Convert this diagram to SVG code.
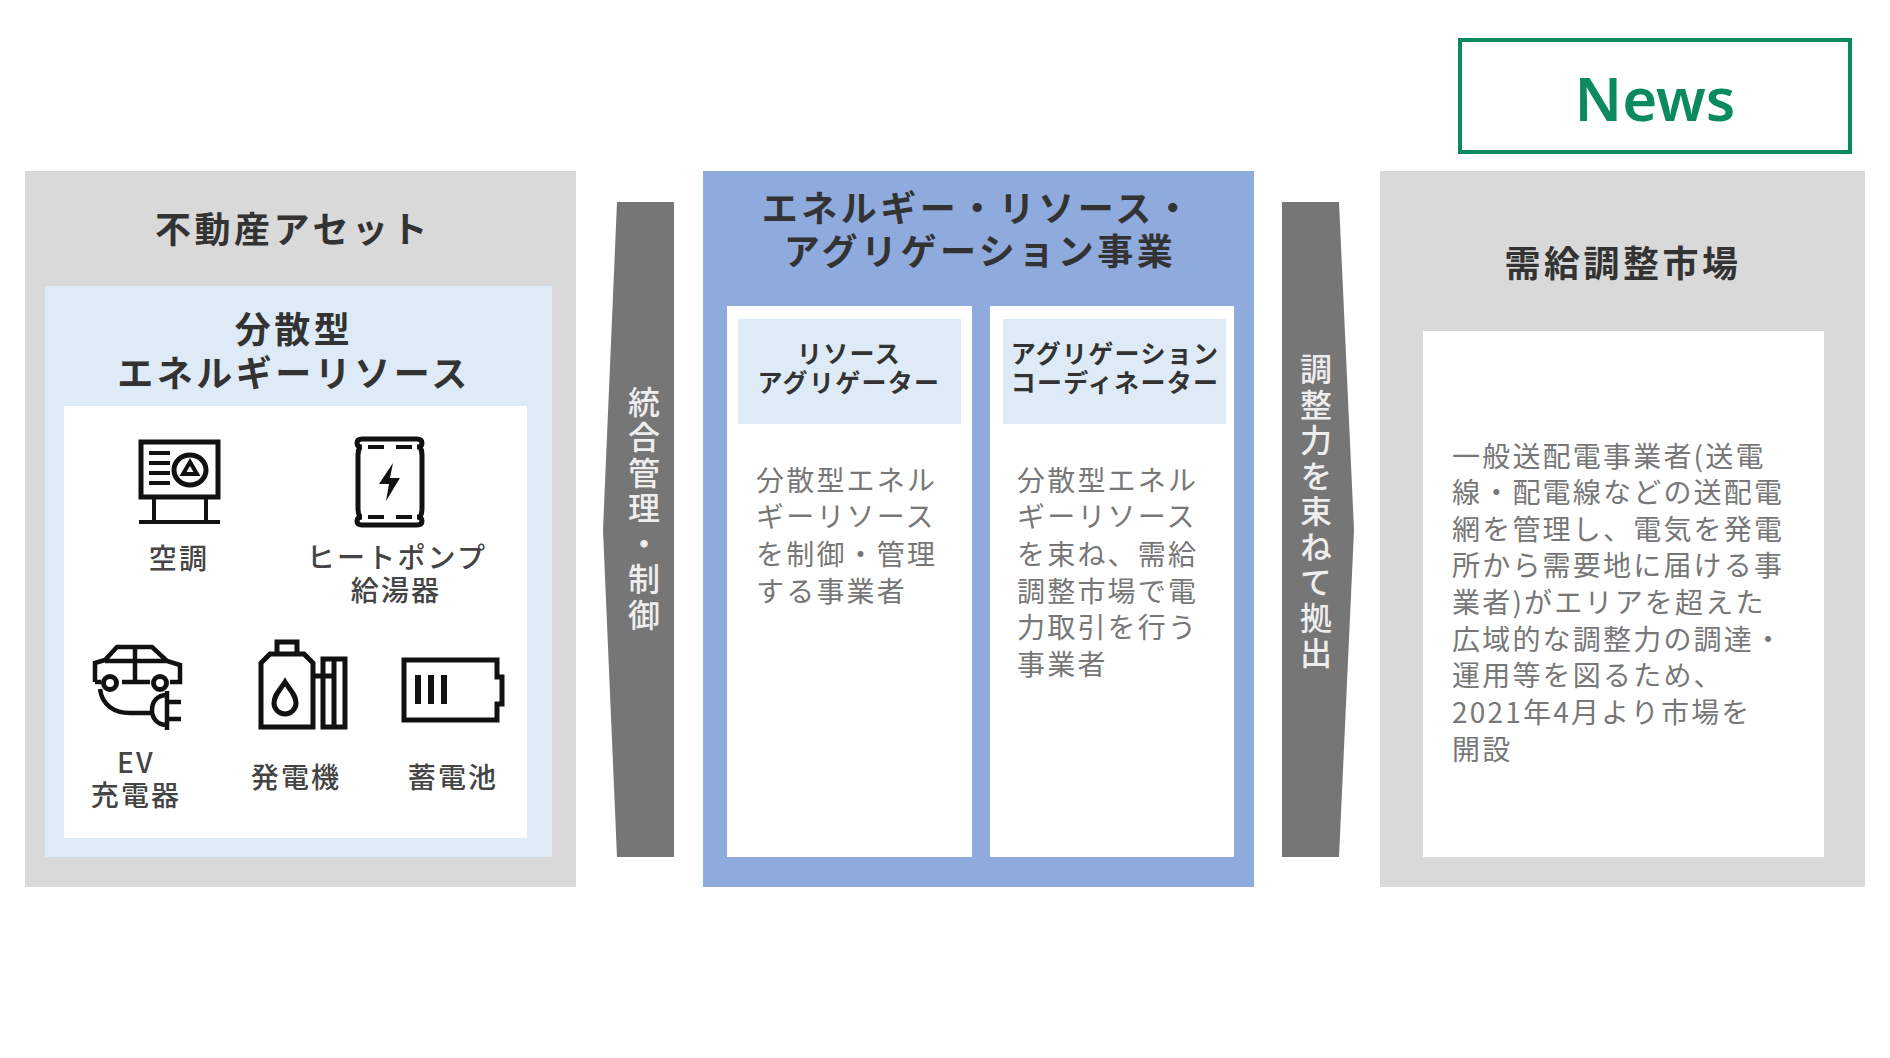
<svg xmlns="http://www.w3.org/2000/svg" width="1890" height="1058" viewBox="0 0 1890 1058">
<style>
text{font-family:"Noto Sans CJK JP","Noto Sans",sans-serif;text-anchor:middle}
.grey{fill:#d9d9d9}.blue{fill:#8faadc}.light{fill:#deebf7}.white{fill:#fff}
.t36{font-size:36px;font-weight:700;fill:#333;letter-spacing:3.500px}
.h25{font-size:25px;font-weight:700;fill:#333;letter-spacing:1.300px}
.lb{font-size:28px;font-weight:500;fill:#444;letter-spacing:2.200px}
.b28{font-size:28px;fill:#777;letter-spacing:2.200px;text-anchor:start}
.v{font-size:32px;font-weight:500;fill:#eee;writing-mode:vertical-rl;letter-spacing:3.500px}
.ic{fill:none;stroke:#111;stroke-width:5}
.ic text{stroke:none;fill:#444}
</style>
<rect width="1890" height="1058" fill="#fff"/>
<g id="news"><rect x="1460" y="40" width="390" height="112" fill="#fff" stroke="#0b8a5f" stroke-width="4"/>
<text x="1655" y="121" font-size="60" font-weight="600" fill="#0b8a5f" style="font-family:'Noto Sans',sans-serif">News</text></g>

<g id="real-estate">
<rect class="grey" x="25" y="171" width="551" height="716"/>
<text class="t36" x="293" y="243">不動産アセット</text>
<rect class="light" x="45" y="286" width="507" height="571"/>
<text class="t36" x="294" y="343">分散型</text>
<text class="t36" x="294" y="387">エネルギーリソース</text>
<rect class="white" x="64" y="406" width="463" height="432"/>
</g>
<g id="ac" class="ic">
<rect x="141" y="442" width="77" height="55"/>
<path d="M149 453h21M149 463h21M149 473h21M149 483h21" stroke-width="4"/>
<ellipse cx="190" cy="470" rx="16" ry="15"/>
<path d="M190 462l7 12h-14zM154 497v25M206 497v25M139 522h81" stroke-width="4"/>
<text class="lb" x="179" y="569">空調</text>
</g>
<g id="heat-pump" class="ic">
<path d="M362 439h55q5 0 5 4t-5 4M362 439q-5 0-5 4t5 4M362 525h55q5 0 5-4t-5-4M362 525q-5 0-5-4t5-4"/>
<path d="M360 447q-2 3-2 8v54q0 5 2 8M420 447q2 3 2 8v54q0 5-2 8"/>
<path d="M368 447h16M396 447h16M368 517h16M396 517h16" stroke-width="4"/>
<path d="M393 463l-14 21h10l-3 17 14-23h-10z" fill="#111" stroke="none"/>
<text class="lb" x="397" y="568">ヒートポンプ</text>
<text class="lb" x="396" y="601">給湯器</text>
</g>
<g id="ev" class="ic">
<path d="M95 682V663l10-3 12-13h35l15 14 13 4v17h-10M150 682h-28M95 682h6M135 647v35M105 661h62" stroke-width="4.500"/>
<circle cx="110" cy="683" r="6.500"/><circle cx="160" cy="683" r="6.500"/>
<path d="M100 689c2 16 14 24 30 24h22M167 691v39M167 695c-10 0-15 7-15 15s5 15 15 15M167 702h14M167 719h14" stroke-width="4.500"/>
<text class="lb" x="136" y="773">EV</text>
<text class="lb" x="136" y="806">充電器</text>
</g>
<g id="generator" class="ic">
<path d="M261 727v-64l9-9h34l9 9v64zM277 653v-11h20v11M313 676h21M323 659h22v68h-22zM334 659v68"/>
<path d="M285 682c5 8 11 13 11 21a11 11 0 0 1-22 0c0-8 6-13 11-21z"/>
<text class="lb" x="296" y="788">発電機</text>
</g>
<g id="battery" class="ic">
<path d="M404 660h93v17h5v27h-5v16h-93z"/>
<path d="M418 675v29M431 675v29M444 675v29" stroke-width="6"/>
<text class="lb" x="453" y="788">蓄電池</text>
</g>

<g id="connectors">
<polygon points="617,202 674,202 674,857 617,857 603,530" fill="#767676"/>
<polygon points="1282,202 1339,202 1354,530 1339,857 1282,857" fill="#767676"/>
<text class="v" x="644" y="510">統合管理・制御</text>
<text class="v" x="1316" y="513">調整力を束ねて拠出</text>
</g>

<g id="aggregation">
<rect class="blue" x="703" y="171" width="551" height="716"/>
<text class="t36" x="978" y="222">エネルギー・リソース・</text>
<text class="t36" x="980" y="265">アグリゲーション事業</text>
</g>
<g id="resource-aggregator">
<rect class="white" x="727" y="306" width="245" height="551"/>
<rect class="light" x="738" y="319" width="223" height="105"/>
<text class="h25" x="849" y="363">リソース</text>
<text class="h25" x="849" y="392">アグリゲーター</text>
<text class="b28"><tspan x="756" y="491">分散型エネル</tspan><tspan x="756" y="527">ギーリソース</tspan><tspan x="756" y="565">を制御・管理</tspan><tspan x="756" y="602">する事業者</tspan></text>
</g>
<g id="aggregation-coordinator">
<rect class="white" x="990" y="306" width="244" height="551"/>
<rect class="light" x="1003" y="319" width="223" height="105"/>
<text class="h25" x="1115" y="363">アグリゲーション</text>
<text class="h25" x="1115" y="392">コーディネーター</text>
<text class="b28"><tspan x="1017" y="491">分散型エネル</tspan><tspan x="1017" y="527">ギーリソース</tspan><tspan x="1017" y="565">を束ね、需給</tspan><tspan x="1017" y="602">調整市場で電</tspan><tspan x="1017" y="638">力取引を行う</tspan><tspan x="1017" y="675">事業者</tspan></text>
</g>

<g id="market">
<rect class="grey" x="1380" y="171" width="485" height="716"/>
<text class="t36" x="1623" y="277">需給調整市場</text>
<rect class="white" x="1423" y="331" width="401" height="526"/>
<text class="b28"><tspan x="1452" y="467">一般送配電事業者(送電</tspan><tspan x="1452" y="503">線・配電線などの送配電</tspan><tspan x="1452" y="540">網を管理し、電気を発電</tspan><tspan x="1452" y="576">所から需要地に届ける事</tspan><tspan x="1452" y="613">業者)がエリアを超えた</tspan><tspan x="1452" y="650">広域的な調整力の調達・</tspan><tspan x="1452" y="686">運用等を図るため、</tspan><tspan x="1452" y="723">2021年4月より市場を</tspan><tspan x="1452" y="760">開設</tspan></text>
</g>
</svg>
